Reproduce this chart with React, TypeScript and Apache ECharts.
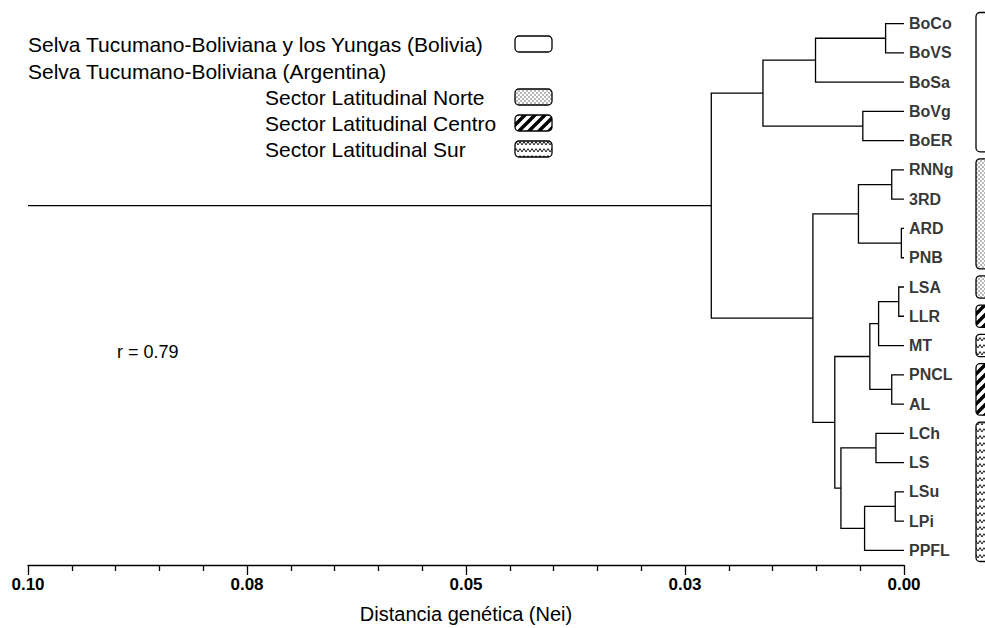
import React, { useEffect, useRef } from "react";
import * as echarts from "echarts";

// ---- data ----
const leafNames = ["BoCo", "BoVS", "BoSa", "BoVg", "BoER", "RNNg", "3RD", "ARD", "PNB", "LSA", "LLR", "MT", "PNCL", "AL", "LCh", "LS", "LSu", "LPi", "PPFL"];
// merges: node n(i+1) joins mergeA[i] and mergeB[i] at mergeHeight[i] (Nei distance)
const mergeA = ["BoCo", "n1", "BoVg", "n2", "RNNg", "ARD", "n5", "LSA", "n8", "PNCL", "n9", "LCh", "LSu", "n13", "n12", "n11", "n7", "n4"];
const mergeB = ["BoVS", "BoSa", "BoER", "n3", "3RD", "PNB", "n6", "LLR", "MT", "AL", "n10", "LS", "LPi", "PPFL", "n14", "n15", "n16", "n17"];
const mergeHeight = [0.0021, 0.0101, 0.0047, 0.0161, 0.0014, 0.0003, 0.0052, 0.0006, 0.0029, 0.0014, 0.0039, 0.0032, 0.0010, 0.0045, 0.0072, 0.0079, 0.0104, 0.0220];
const rootStemEnd = 0.10;

const tickLabels = ["0.00", "0.03", "0.05", "0.08", "0.10"];

// group boxes on the right (leaf index ranges)
const groupStart = [0, 5, 9, 10, 11, 12, 14];
const groupEnd = [4, 8, 9, 10, 11, 13, 18];
const groupPattern = ["none", "dots", "dots", "stripes", "waves", "stripes", "waves"];

const legendLabels = [
  "Selva Tucumano-Boliviana y los Yungas (Bolivia)",
  "Selva Tucumano-Boliviana (Argentina)",
  "Sector Latitudinal Norte",
  "Sector Latitudinal Centro",
  "Sector Latitudinal Sur",
];
const legendPattern = ["none", "", "dots", "stripes", "waves"];
const correlationText = "r = 0.79";

// ---- helpers ----
const FONT = "'Liberation Sans', Arial, Helvetica, sans-serif";

function svgUrl(svg: string) {
  return "data:image/svg+xml;charset=utf-8," + encodeURIComponent(svg);
}
const patternSvgs: Record<string, { svg: string; w: number; h: number }> = {
  dots: {
    w: 4,
    h: 4,
    svg: "<svg xmlns='http://www.w3.org/2000/svg' width='4' height='4'><rect width='4' height='4' fill='#fff'/><circle cx='1' cy='1' r='0.65' fill='#333'/><circle cx='3' cy='3' r='0.65' fill='#333'/></svg>",
  },
  stripes: {
    w: 10,
    h: 10,
    svg: "<svg xmlns='http://www.w3.org/2000/svg' width='10' height='10'><rect width='10' height='10' fill='#fff'/><path d='M-2,12 L12,-2 M-7,7 L7,-7 M3,17 L17,3' stroke='#000' stroke-width='3.4'/></svg>",
  },
  waves: {
    w: 8,
    h: 7,
    svg: "<svg xmlns='http://www.w3.org/2000/svg' width='8' height='7'><rect width='8' height='7' fill='#fff'/><path d='M0,1.5 L2,5 L4,1.5 L6,5 L8,1.5' fill='none' stroke='#222' stroke-width='1'/></svg>",
  },
};
function fillFor(kind: string): any {
  const p = patternSvgs[kind];
  if (!p) return "#fff";
  return { image: svgUrl(p.svg), repeat: "repeat", imageWidth: p.w, imageHeight: p.h };
}

export default function App() {
  const ref = useRef<HTMLDivElement>(null);

  useEffect(() => {
    if (!ref.current) return;
    const chart = echarts.init(ref.current, undefined, { renderer: "svg" });

    // positions of leaves and internal nodes
    const pos: Record<string, { y: number; h: number }> = {};
    leafNames.forEach((n, i) => (pos[n] = { y: i, h: 0 }));
    const nodeData: number[][] = [];
    mergeA.forEach((a, i) => {
      const b = mergeB[i];
      const pa = pos[a];
      const pb = pos[b];
      const h = mergeHeight[i];
      pos["n" + (i + 1)] = { y: (pa.y + pb.y) / 2, h };
      nodeData.push([h, pa.y, pb.y, pa.h, pb.h]);
    });
    const root = pos["n" + mergeA.length];

    const boxData = groupStart.map((s, i) => [s, groupEnd[i], i]);

    const graphics: any[] = [];
    const legendRows = [44, 71, 97, 123, 149];
    const legendX = [28, 28, 265, 265, 265];
    legendLabels.forEach((t, i) => {
      graphics.push({
        type: "text",
        x: legendX[i],
        y: legendRows[i],
        style: { text: t, fontSize: 21, fontFamily: FONT, fill: "#000", verticalAlign: "middle" },
      });
      if (legendPattern[i] !== "") {
        graphics.push({
          type: "rect",
          shape: { x: 515, y: legendRows[i] - 8, width: 37, height: 16, r: 4 },
          style: { fill: fillFor(legendPattern[i]), stroke: "#000", lineWidth: 1.3 },
        });
      }
    });
    graphics.push({
      type: "text",
      x: 117,
      y: 352,
      style: { text: correlationText, fontSize: 18, fontFamily: FONT, fill: "#000", verticalAlign: "middle" },
    });

    chart.setOption({
      animation: false,
      backgroundColor: "#fff",
      grid: { left: 28, right: 81, top: 9, bottom: 63, containLabel: false, outerBoundsMode: "none" },
      xAxis: {
        type: "value",
        position: "bottom",
        min: 0,
        max: 0.1,
        interval: 0.025,
        inverse: true,
        axisLine: { show: true, onZero: false, lineStyle: { color: "#000", width: 1.3 } },
        axisTick: { show: true, length: 10, lineStyle: { color: "#000", width: 1.3 } },
        minorTick: { show: true, splitNumber: 5, length: 6, lineStyle: { color: "#000", width: 1.3 } },
        splitLine: { show: false },
        minorSplitLine: { show: false },
        axisLabel: {
          formatter: (v: number) => tickLabels[Math.round(v / 0.025)],
          fontSize: 17,
          fontWeight: "bold",
          fontFamily: FONT,
          color: "#000",
          margin: 11,
        },
        name: "Distancia genética (Nei)",
        nameLocation: "middle",
        nameGap: 39,
        nameTextStyle: { fontSize: 20, fontFamily: FONT, color: "#000" },
      },
      yAxis: { type: "value", min: -0.5, max: 18.5, inverse: true, show: false },
      graphic: graphics,
      series: [
        {
          type: "custom",
          coordinateSystem: "cartesian2d",
          data: nodeData,
          silent: true,
          renderItem: (_p: any, api: any) => {
            const h = api.value(0);
            const ya = api.value(1);
            const yb = api.value(2);
            const ha = api.value(3);
            const hb = api.value(4);
            const pts = [api.coord([ha, ya]), api.coord([h, ya]), api.coord([h, yb]), api.coord([hb, yb])];
            return {
              type: "polyline",
              shape: { points: pts },
              style: { stroke: "#000", lineWidth: 1.3, fill: "none" },
            };
          },
        },
        {
          type: "line",
          data: [
            [rootStemEnd, root.y],
            [root.h, root.y],
          ],
          symbol: "none",
          silent: true,
          lineStyle: { color: "#000", width: 1.3 },
        },
        {
          type: "scatter",
          data: leafNames.map((n, i) => [0, i, n]),
          symbolSize: 0,
          silent: true,
          label: {
            show: true,
            position: "right",
            distance: 5,
            formatter: (p: any) => p.value[2],
            fontSize: 16,
            fontWeight: "bold",
            fontFamily: FONT,
            color: "#000",
          },
        },
        {
          type: "custom",
          coordinateSystem: "cartesian2d",
          data: boxData,
          silent: true,
          renderItem: (_p: any, api: any) => {
            const s = api.value(0);
            const e = api.value(1);
            const k = api.value(2);
            const top = api.coord([0, s - 0.38]);
            const bot = api.coord([0, e + 0.38]);
            return {
              type: "rect",
              shape: { x: top[0] + 72, y: top[1], width: 30, height: bot[1] - top[1], r: 4 },
              style: { fill: fillFor(groupPattern[k]), stroke: "#000", lineWidth: 1.3 },
            };
          },
        },
      ],
    });

    return () => chart.dispose();
  }, []);

  return <div ref={ref} style={{ position: "fixed", left: 0, top: 0, width: 985, height: 628 }} />;
}
